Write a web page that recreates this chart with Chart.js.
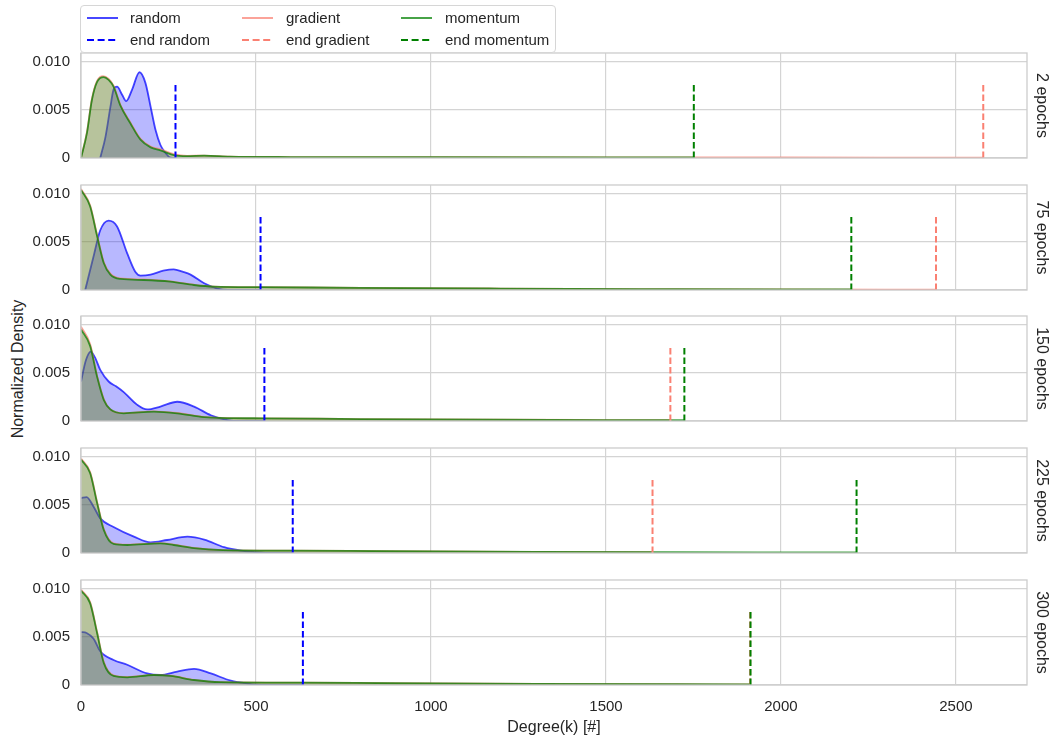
<!DOCTYPE html>
<html>
<head>
<meta charset="utf-8">
<script src="https://cdn.jsdelivr.net/npm/chart.js@4.4.1/dist/chart.umd.min.js"></script>
<style>
  body { margin: 0; background: #fff; }
  #fig { position: relative; width: 1052px; height: 737px; overflow: hidden;
         font-family: "Liberation Sans", Arial, sans-serif; color: #262626; }
  #fig canvas { position: absolute; left: 0; }
  .ylabel { position: absolute; left: 18px; top: 369px; font-size: 16px; white-space: nowrap;
            transform: translate(-50%, -50%) rotate(-90deg); }
  .legend { position: absolute; left: 80px; top: 5px; width: 476px; height: 48px; box-sizing: border-box;
            border: 1px solid #d6d6d6; border-radius: 4px; background: rgba(255, 255, 255, 0.85); z-index: 2; }
  .legend span { position: absolute; font-size: 15px; line-height: 18px; white-space: nowrap; }
  .legend svg { position: absolute; }
</style>
</head>
<body>
<div id="fig">
  <div class="ylabel">Normalized Density</div>
  <div class="legend" id="legend"></div>
</div>
<script>
// ---- data ----
const epochLabels = ["2 epochs", "75 epochs", "150 epochs", "225 epochs", "300 epochs"];
const xTicks = [0, 500, 1000, 1500, 2000, 2500];
const yTicks = [0, 0.005, 0.01];
const yTickLabels = ["0", "0.005", "0.010"];

// dashed "end" markers (degree where each run ends), one per panel
const endRandom = [270, 513, 524, 605, 634];
const endGradient = [2578, 2443, 1684, 1633, 1912];
const endMomentum = [1751, 2201, 1724, 2216, 1913];
const endHeight = 0.0077;

// density curves, [degree, density]
const random1 = [[55, 0], [70, 0.0022], [84, 0.0053], [93, 0.0071], [103, 0.0074], [117, 0.0066], [129, 0.0059], [146, 0.0071], [167, 0.0089], [184, 0.0078], [199, 0.0053], [213, 0.0029], [227, 0.00135], [242, 0.0005], [256, 0.00003], [270, 0]];
const gradient1 = [[0, 0], [17, 0.0027], [31, 0.0061], [46, 0.008], [63, 0.0085], [79, 0.0082], [93, 0.0075], [113, 0.0055], [141, 0.0037], [170, 0.002], [199, 0.0012], [227, 0.0009], [265, 0.0004], [303, 0.00022], [352, 0.00025], [425, 0.00015], [600, 0.0001], [1000, 0.00008], [1500, 0.00006], [2000, 0.00005], [2578, 0.00004]];
const momentum1 = [[0, 0], [17, 0.0026], [31, 0.006], [46, 0.0079], [65, 0.0084], [79, 0.0081], [93, 0.0074], [113, 0.0054], [141, 0.0036], [170, 0.0019], [199, 0.0011], [227, 0.0008], [265, 0.0003], [303, 0.0002], [352, 0.00025], [425, 0.00015], [600, 0.0001], [1000, 0.00008], [1500, 0.00007], [1751, 0.00006]];

const random2 = [[12, 0], [36, 0.0035], [55, 0.0062], [79, 0.0072], [103, 0.0066], [132, 0.0038], [155, 0.0019], [170, 0.0015], [199, 0.0016], [235, 0.002], [265, 0.00215], [290, 0.0019], [313, 0.0016], [352, 0.0007], [390, 0.00015], [420, 0], [513, 0]];
const gradient2 = [[0, 0.0105], [26, 0.0088], [46, 0.0057], [65, 0.0029], [84, 0.0017], [113, 0.0012], [179, 0.0011], [256, 0.0009], [323, 0.00055], [380, 0.00036], [513, 0.0003], [800, 0.00022], [1200, 0.00015], [1600, 0.0001], [2000, 0.00006], [2443, 0.00004]];
const momentum2 = [[0, 0.0104], [26, 0.0087], [46, 0.0056], [65, 0.0028], [84, 0.0016], [113, 0.00115], [179, 0.00104], [256, 0.00087], [323, 0.00052], [380, 0.00035], [513, 0.0003], [800, 0.00022], [1200, 0.00015], [1600, 0.0001], [2000, 0.00006], [2201, 0.00005]];

const random3 = [[0, 0.0041], [14, 0.0063], [28, 0.0072], [40, 0.0066], [55, 0.0053], [79, 0.0041], [100, 0.0036], [122, 0.003], [160, 0.0017], [189, 0.0012], [227, 0.0015], [275, 0.002], [323, 0.0015], [371, 0.0006], [419, 0.0001], [455, 0], [524, 0]];
const gradient3 = [[0, 0.0098], [26, 0.008], [46, 0.0047], [65, 0.0023], [84, 0.0012], [122, 0.00082], [208, 0.001], [275, 0.00083], [352, 0.00042], [425, 0.0003], [524, 0.00028], [800, 0.0002], [1200, 0.00013], [1500, 0.0001], [1684, 0.00008]];
const momentum3 = [[0, 0.0095], [26, 0.0078], [46, 0.0046], [65, 0.0022], [84, 0.0012], [122, 0.0008], [208, 0.00097], [275, 0.0008], [352, 0.0004], [425, 0.0003], [524, 0.00028], [800, 0.0002], [1200, 0.00013], [1500, 0.0001], [1724, 0.00008]];

const random4 = [[0, 0.0057], [16, 0.0058], [36, 0.0048], [55, 0.0036], [93, 0.0027], [151, 0.0017], [199, 0.0011], [246, 0.00135], [304, 0.0017], [352, 0.0014], [409, 0.0006], [457, 0.00024], [495, 0.0001], [545, 0], [605, 0]];
const gradient4 = [[0, 0.0098], [26, 0.0084], [46, 0.0053], [65, 0.0025], [93, 0.001], [132, 0.00086], [227, 0.00103], [265, 0.00086], [323, 0.00052], [405, 0.0003], [605, 0.00025], [900, 0.00018], [1300, 0.00012], [1633, 0.00008]];
const momentum4 = [[0, 0.0097], [26, 0.0083], [46, 0.0052], [65, 0.0024], [93, 0.00094], [132, 0.00083], [227, 0.001], [265, 0.00083], [323, 0.0005], [405, 0.0003], [605, 0.00025], [900, 0.00018], [1300, 0.00012], [1700, 0.00008], [2216, 0.00005]];

const random5 = [[0, 0.0055], [16, 0.0054], [36, 0.0048], [55, 0.0035], [93, 0.0026], [132, 0.0021], [189, 0.0012], [227, 0.00104], [275, 0.0014], [323, 0.00167], [371, 0.0012], [428, 0.00045], [476, 0.00015], [525, 0], [634, 0]];
const gradient5 = [[0, 0.0099], [26, 0.0086], [46, 0.0055], [65, 0.0024], [93, 0.001], [132, 0.00083], [208, 0.00106], [256, 0.00096], [323, 0.00054], [400, 0.0003], [634, 0.00025], [900, 0.00018], [1300, 0.00012], [1700, 0.00008], [1912, 0.00006]];
const momentum5 = [[0, 0.0098], [26, 0.0085], [46, 0.0054], [65, 0.0023], [93, 0.00094], [132, 0.0008], [208, 0.00104], [256, 0.00094], [323, 0.00052], [400, 0.0003], [634, 0.00025], [900, 0.00018], [1300, 0.00012], [1700, 0.00008], [1913, 0.00006]];

const randomCurves = [random1, random2, random3, random4, random5];
const gradientCurves = [gradient1, gradient2, gradient3, gradient4, gradient5];
const momentumCurves = [momentum1, momentum2, momentum3, momentum4, momentum5];

// ---- look ----
const FONT = '"Liberation Sans", Arial, sans-serif';
const TEXT = "#262626";
const GRID = "#d4d4d4";
const SPINE = "#cccccc";
const X_MAX = 2703;
const Y_MAX = 0.0109;
const PANEL_TOP = [53, 185, 316, 448, 580];
const PANEL_H = 105;

const SERIES = [
  { name: "random", line: "rgba(0, 0, 255, 0.72)", fill: "rgba(0, 0, 255, 0.28)", end: "#0000ff" },
  { name: "gradient", line: "rgba(250, 128, 114, 0.72)", fill: "rgba(250, 128, 114, 0.28)", end: "#fa8072" },
  { name: "momentum", line: "rgba(0, 128, 0, 0.72)", fill: "rgba(0, 128, 0, 0.28)", end: "#008000" }
];
const DASH = [6.5, 3];

const toPoints = (rows) => rows.map(([x, y]) => ({ x, y }));

function buildLegend() {
  const legend = document.getElementById("legend");
  const lineX = [6, 161, 320];
  const textX = [49, 205, 364];
  const rowY = [12, 34];
  SERIES.forEach((s, col) => {
    [false, true].forEach((dashed, row) => {
      const svg = document.createElementNS("http://www.w3.org/2000/svg", "svg");
      svg.setAttribute("width", "31");
      svg.setAttribute("height", "6");
      svg.style.left = lineX[col] + "px";
      svg.style.top = (rowY[row] - 3) + "px";
      const ln = document.createElementNS("http://www.w3.org/2000/svg", "line");
      ln.setAttribute("x1", "0");
      ln.setAttribute("x2", "31");
      ln.setAttribute("y1", "3");
      ln.setAttribute("y2", "3");
      ln.setAttribute("stroke", dashed ? s.end : s.line);
      ln.setAttribute("stroke-width", "2");
      if (dashed) ln.setAttribute("stroke-dasharray", "7 3.6");
      svg.appendChild(ln);
      legend.appendChild(svg);

      const label = document.createElement("span");
      label.textContent = (dashed ? "end " : "") + s.name;
      label.style.left = textX[col] + "px";
      label.style.top = (rowY[row] - 9) + "px";
      legend.appendChild(label);
    });
  });
}

const framePlugin = {
  id: "frame",
  afterDatasetsDraw(chart) {
    const a = chart.chartArea;
    const ctx = chart.ctx;
    ctx.save();
    ctx.strokeStyle = SPINE;
    ctx.lineWidth = 1.3;
    ctx.strokeRect(a.left, a.top, a.right - a.left, a.bottom - a.top);
    ctx.restore();
  }
};

const rowTitlePlugin = {
  id: "rowTitle",
  afterDraw(chart, args, opts) {
    const a = chart.chartArea;
    const ctx = chart.ctx;
    ctx.save();
    ctx.translate(a.right + 14, (a.top + a.bottom) / 2);
    ctx.rotate(Math.PI / 2);
    ctx.fillStyle = TEXT;
    ctx.font = "16px " + FONT;
    ctx.textAlign = "center";
    ctx.textBaseline = "middle";
    ctx.fillText(opts.text, 0, 0);
    ctx.restore();
  }
};

function curveDataset(s, rows, order) {
  return {
    label: s.name,
    data: toPoints(rows),
    borderColor: s.line,
    backgroundColor: s.fill,
    borderWidth: 1.8,
    fill: "origin",
    pointRadius: 0,
    cubicInterpolationMode: "monotone",
    order
  };
}

// lower order is painted later, so "end momentum" sits on top like the reference
function endDataset(s, x, order) {
  return {
    label: "end " + s.name,
    data: [{ x, y: 0 }, { x, y: endHeight }],
    borderColor: s.end,
    borderWidth: 2,
    borderDash: DASH,
    fill: false,
    pointRadius: 0,
    order
  };
}

// keep the plot box exactly where the layout wants it (no label overhang padding)
function noOverhang(scale) {
  scale.paddingTop = 0;
  scale.paddingBottom = 0;
  scale.paddingLeft = 0;
  scale.paddingRight = 0;
}

function renderPanel(i) {
  const last = i === epochLabels.length - 1;
  const top = PANEL_TOP[i] - 8;
  const height = last ? 737 - top : PANEL_H + 16;

  const canvas = document.createElement("canvas");
  canvas.width = 1052;
  canvas.height = height;
  canvas.style.top = top + "px";
  document.getElementById("fig").appendChild(canvas);

  new Chart(canvas.getContext("2d"), {
    type: "line",
    data: {
      datasets: [
        curveDataset(SERIES[0], randomCurves[i], 3),
        curveDataset(SERIES[1], gradientCurves[i], 2),
        curveDataset(SERIES[2], momentumCurves[i], 1),
        endDataset(SERIES[0], endRandom[i], 0),
        endDataset(SERIES[1], endGradient[i], -1),
        endDataset(SERIES[2], endMomentum[i], -2)
      ]
    },
    options: {
      responsive: false,
      animation: false,
      events: [],
      layout: { padding: { left: 0, right: 1052 - 1027, top: 8, bottom: last ? 0 : 8 } },
      plugins: {
        legend: { display: false },
        tooltip: { enabled: false },
        rowTitle: { text: epochLabels[i] }
      },
      scales: {
        x: {
          type: "linear",
          min: 0,
          max: X_MAX,
          afterBuildTicks: (scale) => { scale.ticks = xTicks.map((v) => ({ value: v })); },
          afterFit: (scale) => { scale.height = last ? 52 : 0; noOverhang(scale); },
          grid: { color: GRID, lineWidth: 1.2, drawTicks: false },
          border: { display: false },
          ticks: {
            display: last,
            padding: 13,
            maxRotation: 0,
            color: TEXT,
            font: { family: FONT, size: 15 },
            callback: (v) => String(v)
          },
          title: {
            display: last,
            text: "Degree(k) [#]",
            color: TEXT,
            font: { family: FONT, size: 16 },
            padding: { top: 0, bottom: 0 }
          }
        },
        y: {
          min: 0,
          max: Y_MAX,
          afterBuildTicks: (scale) => { scale.ticks = yTicks.map((v) => ({ value: v })); },
          afterFit: (scale) => { scale.width = 81; noOverhang(scale); },
          grid: { color: GRID, lineWidth: 1.2, drawTicks: false },
          border: { display: false },
          ticks: {
            padding: 11,
            color: TEXT,
            font: { family: FONT, size: 15 },
            callback: (v, idx) => yTickLabels[idx]
          }
        }
      }
    },
    plugins: [framePlugin, rowTitlePlugin]
  });
}

buildLegend();
epochLabels.forEach((_, i) => renderPanel(i));
</script>
</body>
</html>
